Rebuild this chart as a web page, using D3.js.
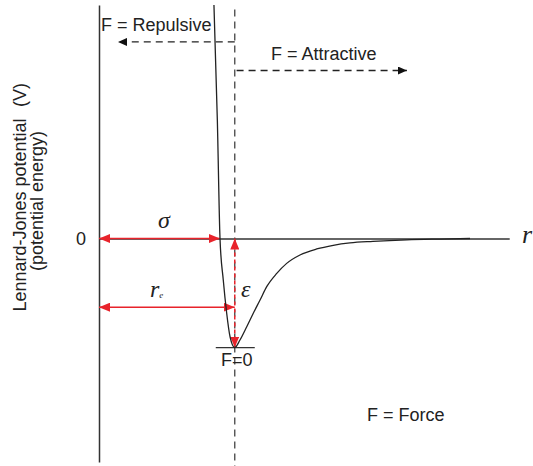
<!DOCTYPE html>
<html>
<head>
<meta charset="utf-8">
<script src="https://cdn.jsdelivr.net/npm/d3@7"></script>
<style>
body { margin: 0; background: #fff; }
text { font-family: "Liberation Sans", Arial, sans-serif; fill: #222; }
.greek { font-family: "Liberation Serif", "Times New Roman", serif; font-style: italic; }
</style>
</head>
<body>
<svg id="chart"></svg>
<script>
// potential curve (r in units of sigma, V in units of epsilon)
var rValues = [0.950, 0.978, 1.000, 1.027, 1.055, 1.083, 1.122, 1.165, 1.221, 1.275, 1.331,
               1.386, 1.469, 1.551, 1.661, 1.799, 1.936, 2.074, 2.264, 2.543, 2.818, 3.066];
var vValues = [2.142, 1.087, 0.000, -0.381, -0.683, -0.901, -1.000, -0.931, -0.809, -0.686, -0.564,
               -0.442, -0.320, -0.228, -0.151, -0.096, -0.062, -0.040, -0.026, -0.012, -0.005, 0.000];

// marked distances / energies
var sigma = 1.0;
var rEq = 1.122;
var epsilon = 1.0;

// axis extents
var rMax = 3.39;
var vTop = 2.142, vBottom = -2.05;
var tickValues = [0];
var tickLabels = ["0"];

// force arrows: [from r, to r, V level]
var repulsive = [rEq, 0.157, 1.803];
var attractive = [rEq + 0.015, 2.545, 1.541];

var size = { width: 533, height: 466 };
var red = "#e8232b";
var ink = "#333";

var svg = d3.select("#chart")
  .attr("width", size.width)
  .attr("height", size.height);

var x = d3.scaleLinear().domain([0, rMax]).range([99, 509.2]);
var y = d3.scaleLinear().domain([vBottom, vTop]).range([462, 5]);

// arrow heads
var defs = svg.append("defs");
function marker(id, color, len, wid) {
  defs.append("marker")
    .attr("id", id)
    .attr("viewBox", "0 0 " + len + " " + wid)
    .attr("refX", len)
    .attr("refY", wid / 2)
    .attr("markerWidth", len)
    .attr("markerHeight", wid)
    .attr("markerUnits", "userSpaceOnUse")
    .attr("orient", "auto-start-reverse")
    .append("path")
    .attr("d", "M0,0L" + len + "," + (wid / 2) + "L0," + wid + "Z")
    .attr("fill", color);
}
marker("redHead", red, 11, 9);
marker("blackHead", "#111", 9, 8);

// vertical axis with the 0 tick
var yAxis = d3.axisLeft(y)
  .tickValues(tickValues)
  .tickFormat(function(d, i){ return tickLabels[i]; })
  .tickSize(0)
  .tickSizeOuter(0)
  .tickPadding(13);

var gy = svg.append("g")
  .attr("transform", "translate(" + x(0) + ",0)")
  .call(yAxis);
gy.select(".domain").attr("stroke", ink).attr("stroke-width", 1.5);
gy.selectAll("text")
  .attr("font-size", 18)
  .attr("font-family", "Liberation Sans, Arial, sans-serif")
  .attr("fill", "#222")
  .attr("dy", "0.36em");

// zero line (r axis)
var xAxis = d3.axisBottom(x).tickValues([]).tickSizeOuter(0);
var gx = svg.append("g")
  .attr("transform", "translate(0," + y(0) + ")")
  .call(xAxis);
gx.select(".domain").attr("stroke", ink).attr("stroke-width", 1.5);

// dashed line at r_e
svg.append("line")
  .attr("x1", x(rEq)).attr("x2", x(rEq))
  .attr("y1", y(2.10)).attr("y2", y(-2.09))
  .attr("stroke", "#444")
  .attr("stroke-width", 1.3)
  .attr("stroke-dasharray", "7,5");

// F = 0 tick at the minimum
svg.append("line")
  .attr("x1", x(rEq) - 19).attr("x2", x(rEq) + 20)
  .attr("y1", y(-epsilon)).attr("y2", y(-epsilon))
  .attr("stroke", ink)
  .attr("stroke-width", 1.2);

// force direction arrows
[repulsive, attractive].forEach(function(a){
  svg.append("line")
    .attr("x1", x(a[0])).attr("x2", x(a[1]))
    .attr("y1", y(a[2])).attr("y2", y(a[2]))
    .attr("stroke", "#222")
    .attr("stroke-width", 1.3)
    .attr("stroke-dasharray", "7,5")
    .attr("marker-end", "url(#blackHead)");
});

// red measurement arrows
function redArrow(x1, y1, x2, y2, dash) {
  svg.append("line")
    .attr("x1", x1).attr("y1", y1)
    .attr("x2", x2).attr("y2", y2)
    .attr("stroke", red)
    .attr("stroke-width", 1.5)
    .attr("stroke-dasharray", dash || null)
    .attr("marker-start", "url(#redHead)")
    .attr("marker-end", "url(#redHead)");
}
redArrow(x(0), y(0), x(sigma), y(0));
redArrow(x(0), y(-0.63), x(rEq), y(-0.63));
redArrow(x(rEq), y(0), x(rEq), y(-epsilon), "4,3");

// the potential curve
var curve = rValues.map(function(r, i){ return { r: r, v: vValues[i] }; });
var line = d3.line()
  .x(function(d){ return x(d.r); })
  .y(function(d){ return y(d.v); })
  .curve(d3.curveMonotoneX);

svg.append("path")
  .datum(curve)
  .attr("d", line)
  .attr("fill", "none")
  .attr("stroke", "#222")
  .attr("stroke-width", 1.3);

// labels
svg.append("text").attr("x", 101).attr("y", 31).attr("font-size", 18).text("F = Repulsive");
svg.append("text").attr("x", 271).attr("y", 60).attr("font-size", 18).text("F = Attractive");
svg.append("text").attr("x", 367).attr("y", 421).attr("font-size", 18).text("F = Force");
svg.append("text").attr("x", x(rEq) + 2).attr("y", 366).attr("font-size", 18)
  .attr("text-anchor", "middle").text("F=0");

svg.append("text").attr("class", "greek").attr("x", 164).attr("y", 228)
  .attr("font-size", 24).attr("text-anchor", "middle").text("σ");
var re = svg.append("text").attr("class", "greek").attr("x", 150).attr("y", 297).attr("font-size", 24);
re.append("tspan").text("r");
re.append("tspan").attr("font-size", 9).attr("dy", 1).text("e");
svg.append("text").attr("class", "greek").attr("x", 241).attr("y", 297)
  .attr("font-size", 24).text("ε");
svg.append("text").attr("class", "greek").attr("x", 522).attr("y", 243)
  .attr("font-size", 26).text("r");

// y axis title
function vText(cx, cy, s) {
  svg.append("text")
    .attr("transform", "translate(" + cx + "," + cy + ") rotate(-90)")
    .attr("text-anchor", "middle")
    .attr("font-size", 18)
    .text(s);
}
vText(26, 95, "(V)");
vText(26, 215, "Lennard-Jones potential");
vText(43, 201, "(potential energy)");
</script>
</body>
</html>
